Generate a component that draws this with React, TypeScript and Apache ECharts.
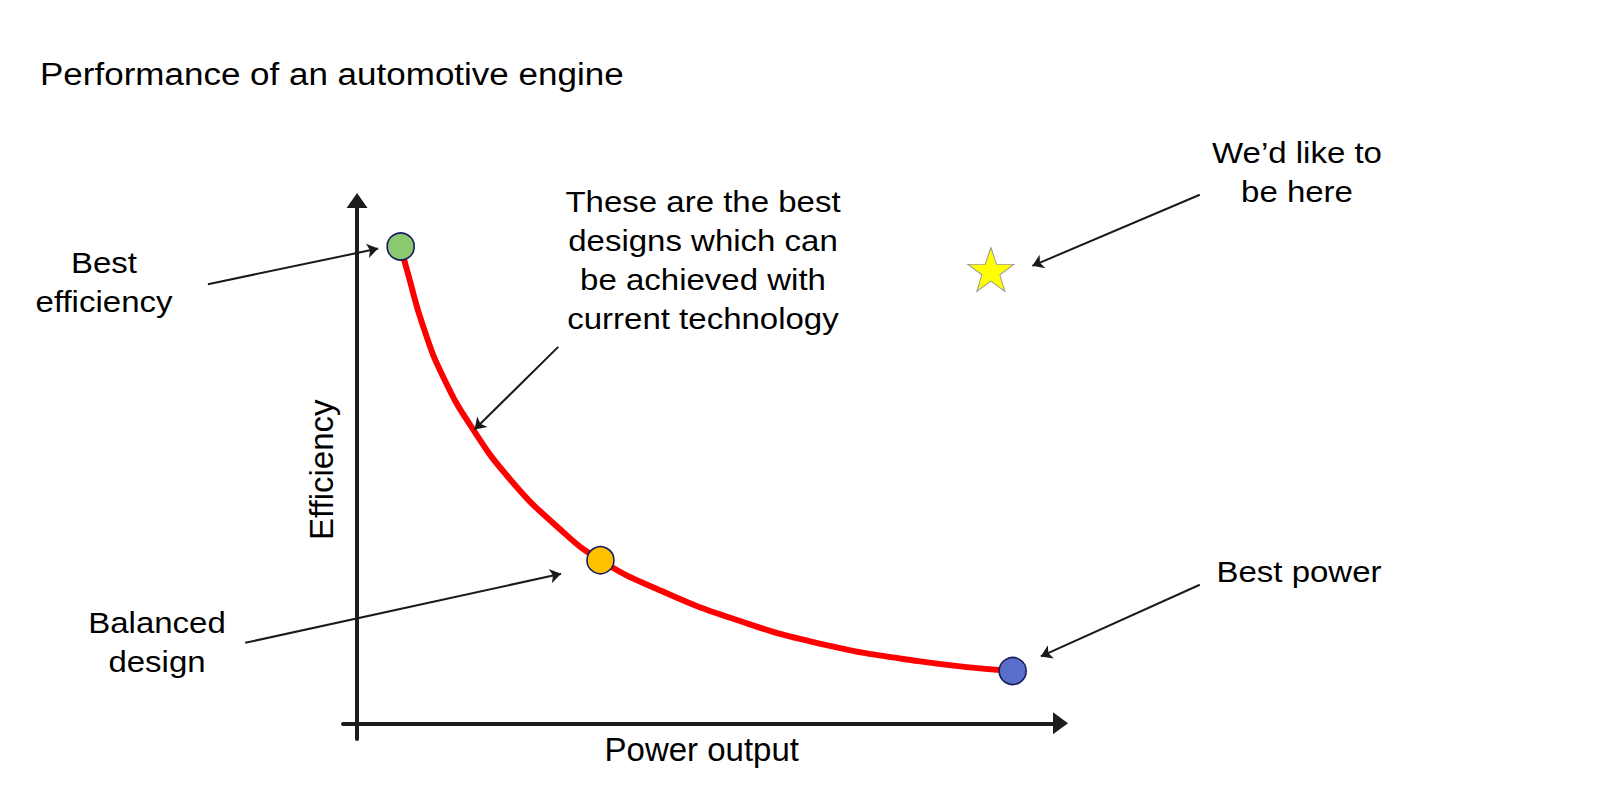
import React, { useEffect, useRef } from "react";
import * as echarts from "echarts";

// ---- Data ----
const titleText = "Performance of an automotive engine";
const xAxisName = "Power output";
const yAxisName = "Efficiency";

// Pareto frontier (best designs achievable with current technology)
const frontierPower = [6.2, 7.3, 9.4, 12.3, 16.4, 21.8, 28.3, 34.6, 43.5, 53.7, 65.3, 79.8, 93.2];
const frontierEfficiency = [91.2, 85.7, 75.9, 66.1, 56.4, 46.6, 37.8, 31.2, 25.2, 19.9, 15.4, 11.9, 10.0];

// Highlighted designs
const designNames = ["Best efficiency", "Balanced design", "Best power"];
const designPower = [6.2, 34.6, 93.2];
const designEfficiency = [91.2, 31.2, 10.0];
const designColors = ["#8cc86f", "#ffc000", "#5a6fca"];

// Target ("We'd like to be here")
const targetPower = [90.1];
const targetEfficiency = [86.8];

// Annotation arrows (data coordinates: from -> to)
const arrowFromPower = [-21.2, 28.6, 119.8, 119.8, -15.9];
const arrowFromEff = [84.0, 72.0, 101.1, 26.5, 15.4];
const arrowToPower = [3.0, 16.7, 96.0, 97.2, 29.0];
const arrowToEff = [90.8, 56.2, 87.5, 12.8, 28.6];

// Annotation texts
const labelTexts = [
  "Best\nefficiency",
  "These are the best\ndesigns which can\nbe achieved with\ncurrent technology",
  "We\u2019d like to\nbe here",
  "Best power",
  "Balanced\ndesign",
];

const FONT = "'Liberation Sans', Arial, Helvetica, sans-serif";
const SQ = 0.887;
const labelPos = [
  [104, 282.5],
  [703, 260.5],
  [1297, 173],
  [1299, 572],
  [157, 642.5],
];

const STAR =
  "path://M50,0 L61.8,35.1 L98.1,35.1 L68.8,56.8 L79.4,91.6 L50,70 L20.6,91.6 L31.2,56.8 L1.9,35.1 L38.2,35.1 Z";

export default function App() {
  const ref = useRef<HTMLDivElement>(null);

  useEffect(() => {
    if (!ref.current) return;
    const chart = echarts.init(ref.current, undefined, { renderer: "svg" });

    const axisLineStyle = { color: "#1c1c1c", width: 4, cap: "round" };

    const option: any = {
      animation: false,
      backgroundColor: "#ffffff",
      grid: { left: 343, right: 539.5, top: 200.5, bottom: 59, containLabel: false },
      xAxis: {
        type: "value",
        min: -2,
        max: 100,
        name: xAxisName,
        nameLocation: "middle",
        nameGap: -6,
        nameTextStyle: { fontSize: 33, fontFamily: FONT, color: "#000" },
        axisLine: {
          show: true,
          onZero: true,
          symbol: ["none", "triangle"],
          symbolSize: [22, 15],
          lineStyle: axisLineStyle,
        },
        axisTick: { show: false },
        axisLabel: { show: false },
        splitLine: { show: false },
      },
      yAxis: {
        type: "value",
        min: -3,
        max: 100,
        name: yAxisName,
        nameLocation: "middle",
        nameGap: 5,
        nameTextStyle: { fontSize: 33, fontFamily: FONT, color: "#000" },
        axisLine: {
          show: true,
          onZero: true,
          symbol: ["none", "triangle"],
          symbolSize: [21, 15],
          lineStyle: axisLineStyle,
        },
        axisTick: { show: false },
        axisLabel: { show: false },
        splitLine: { show: false },
      },
      series: [
        {
          type: "line",
          name: "Frontier",
          data: frontierPower.map((p, i) => [p, frontierEfficiency[i]]),
          smooth: 0.5,
          showSymbol: false,
          symbol: "none",
          lineStyle: { color: "#ff0000", width: 6 },
          z: 2,
        },
        {
          type: "lines",
          coordinateSystem: "cartesian2d",
          clip: false,
          symbol: ["none", "arrow"],
          symbolSize: [9, 11],
          lineStyle: { color: "#1a1a1a", width: 2, opacity: 1 },
          data: arrowFromPower.map((p, i) => ({
            coords: [
              [p, arrowFromEff[i]],
              [arrowToPower[i], arrowToEff[i]],
            ],
          })),
          z: 3,
        },
        {
          type: "scatter",
          name: "Designs",
          symbol: "circle",
          symbolSize: 27,
          data: designPower.map((p, i) => ({
            name: designNames[i],
            value: [p, designEfficiency[i]],
            itemStyle: { color: designColors[i] },
          })),
          itemStyle: { borderColor: "#1b1b5e", borderWidth: 1.6, opacity: 1 },
          z: 4,
        },
        {
          type: "scatter",
          name: "Target",
          symbol: STAR,
          symbolSize: [46, 44],
          data: targetPower.map((p, i) => [p, targetEfficiency[i]]),
          itemStyle: { color: "#ffff00", borderColor: "#9a9a9a", borderWidth: 1, opacity: 1 },
          z: 4,
        },
      ],
      graphic: [
        {
          type: "text",
          x: 40,
          y: 74,
          scaleY: SQ,
          style: {
            text: titleText,
            fontSize: 35,
            fontFamily: FONT,
            fill: "#000",
            textAlign: "left",
            textVerticalAlign: "middle",
            verticalAlign: "middle",
          },
        },
        ...labelTexts.map((t, i) => ({
          type: "text",
          x: labelPos[i][0],
          y: labelPos[i][1],
          scaleY: SQ,
          style: {
            text: t,
            fontSize: 33,
            fontFamily: FONT,
            fill: "#000",
            lineHeight: 44,
            textAlign: "center",
            textVerticalAlign: "middle",
            verticalAlign: "middle",
          },
        })),
      ],
    };

    chart.setOption(option);
    return () => {
      chart.dispose();
    };
  }, []);

  return (
    <div
      ref={ref}
      style={{ position: "fixed", left: 0, top: 0, width: 1600, height: 798, background: "#fff" }}
    />
  );
}
